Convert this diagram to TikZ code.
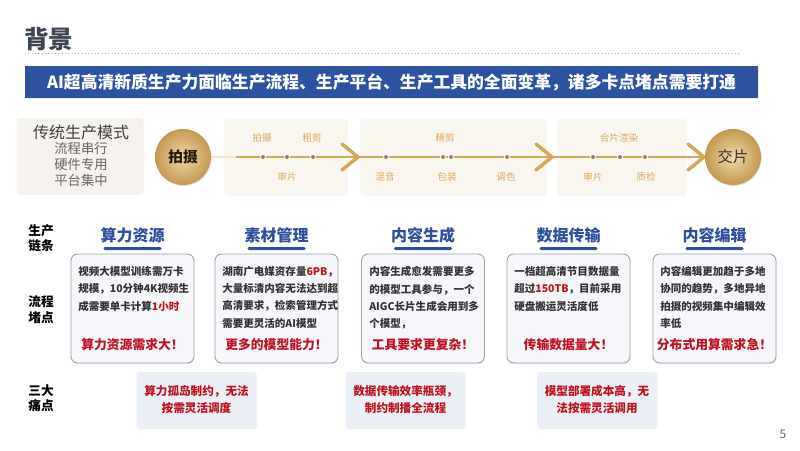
\documentclass[tikz,border=0pt]{standalone}
\usepackage{fontspec}
\setmainfont{Noto Sans CJK SC}
\usetikzlibrary{shadows,calc}
\newdimen\pxu \pxu=0.75pt
\definecolor{titlegray}{HTML}{3D4554}
\definecolor{bannerblue}{HTML}{2D52A2}
\definecolor{beige}{HTML}{F6F3EE}
\definecolor{procbg}{HTML}{F9F6F0}
\definecolor{goldlight}{HTML}{F0D9A6}
\definecolor{golddark}{HTML}{C49853}
\definecolor{goldline}{HTML}{D3A858}
\definecolor{goldtext}{HTML}{DCA95C}
\definecolor{dotgray}{HTML}{8C7C62}
\definecolor{headblue}{HTML}{2D4F9E}
\definecolor{boxfill}{HTML}{F5F7FA}
\definecolor{boxline}{HTML}{9AA3B3}
\definecolor{bodytext}{HTML}{333333}
\definecolor{alertred}{HTML}{C0111F}
\definecolor{painfill}{HTML}{EBEFF6}
\tikzset{
  goldball/.style={circle, minimum size=56\pxu, inner sep=0pt, shading=radial,
    inner color=goldlight, outer color=golddark,
    drop shadow={opacity=0.2, shadow xshift=0.6pt, shadow yshift=-0.8pt}},
  procbox/.style={fill=procbg, rounded corners=3pt, minimum height=77\pxu, inner sep=0pt},
  glabel/.style={text=goldtext, font=\fontsize{7.2}{8}\selectfont},
  flowdot/.style={circle, fill=dotgray, draw=white, line width=0.6pt, minimum size=5\pxu, inner sep=0pt},
  chev/.style={draw=goldline, line width=2.6pt, line cap=round, line join=round},
  rowlabel/.style={align=center, font=\fontsize{9.5}{11.5}\selectfont\bfseries, text=black},
  colhead/.style={text=headblue, font=\fontsize{12}{14}\selectfont\bfseries},
  hbar/.style={fill=headblue, minimum width=58\pxu, minimum height=3\pxu, inner sep=0pt, rounded corners=1pt},
  colbox/.style={fill=boxfill, draw=boxline, line width=0.7pt, rounded corners=5pt,
    minimum width=123\pxu, minimum height=109\pxu, inner sep=0pt,
    drop shadow={opacity=0.12, shadow xshift=0.5pt, shadow yshift=-0.8pt}},
  bodytxt/.style={anchor=north west, align=left, inner sep=0pt, text=bodytext,
    font=\fontsize{7.9}{12.8}\selectfont\bfseries},
  concl/.style={text=alertred, font=\fontsize{9.6}{11}\selectfont\bfseries},
  painbox/.style={fill=painfill, minimum width=120\pxu, minimum height=56\pxu, inner sep=0pt,
    rounded corners=2pt, align=center, text=alertred, font=\fontsize{8.7}{12.8}\selectfont\bfseries,
    drop shadow={opacity=0.1, shadow xshift=0.5pt, shadow yshift=-0.8pt}}
}
\newcommand{\hl}[1]{\textcolor{alertred}{#1}}
\begin{document}
\begin{tikzpicture}[x=0.75pt,y=-0.75pt]
\useasboundingbox (0,0) rectangle (800,450);
\fill[white] (0,0) rectangle (800,450);

% title
\node[anchor=west, inner sep=0pt, text=titlegray, font=\fontsize{18.5}{20}\selectfont\bfseries] (title) at (24,39) {背景};
\coordinate (dl) at (25,53);
\coordinate (dr) at (740,53);
\draw[dotted, gray!70, line width=0.5pt] (dl) -- (dr);

% banner
\node[fill=bannerblue, minimum width=733\pxu, minimum height=32\pxu, inner sep=0pt, text=white,
  font=\fontsize{12.6}{14}\selectfont\bfseries,
  drop shadow={opacity=0.15, shadow xshift=0.5pt, shadow yshift=-0.8pt}] (banner) at (391.5,82)
  {AI超高清新质生产力面临生产流程、生产平台、生产工具的全面变革，诸多卡点堵点需要打通};

% traditional mode
\node[fill=beige, minimum width=127\pxu, minimum height=77\pxu, inner sep=0pt, rounded corners=2pt] (trad) at (80,156.5) {};
\node[text=black!75, font=\fontsize{12}{14}\selectfont] (tradt) at (81,132) {传统生产模式};
\node[text=black!60, align=center, font=\fontsize{10}{12}\selectfont] (tradl) at (81,164.5) {流程串行\\硬件专用\\平台集中};

% process boxes
\node[procbox, minimum width=124\pxu] (p1) at (286,157.5) {};
\node[procbox, minimum width=187\pxu] (p2) at (453.5,157.5) {};
\node[procbox, minimum width=130\pxu] (p3) at (622,157.5) {};

% circles
\node[goldball, text=black!80!brown, font=\fontsize{11}{12}\selectfont\bfseries] (shoot) at (183,157) {拍摄};
\node[goldball, text=black!80, font=\fontsize{11.5}{12}\selectfont] (deliver) at (733,157) {交片};

% flow line
\draw[goldline, line width=2pt] (shoot.east) -- (deliver.west);
\draw[goldlight!60!white, line width=2pt] (shoot.east) -- ++(25,0);

% chevrons
\coordinate (c1) at (358,157);
\coordinate (c2) at (552,157);
\coordinate (c3) at (704,157);
\draw[chev] ($(c1)+(-16,-13)$) -- (c1) -- ($(c1)+(-16,13)$);
\draw[chev] ($(c2)+(-16,-13)$) -- (c2) -- ($(c2)+(-16,13)$);
\draw[chev] ($(c3)+(-16,-13)$) -- (c3) -- ($(c3)+(-16,13)$);

% dots
\foreach \x [count=\i] in {263,287,313,386,443,451,507,593,620,645}
  \node[flowdot] (d\i) at (\x,157) {};

% gold labels
\node[glabel] (l1) at (262,138) {拍摄};
\node[glabel] (l2) at (312,138) {粗剪};
\node[glabel] (l3) at (287,177) {审片};
\node[glabel] (l4) at (445,138) {精剪};
\node[glabel] (l5) at (385,177) {混音};
\node[glabel] (l6) at (447,177) {包装};
\node[glabel] (l7) at (506,177) {调色};
\node[glabel] (l8) at (619,138) {合片渲染};
\node[glabel] (l9) at (593,177) {审片};
\node[glabel] (l10) at (646,177) {质检};

% row labels
\node[rowlabel] (r1) at (41,238) {生产\\链条};
\node[rowlabel] (r2) at (41,309.5) {流程\\堵点};
\node[rowlabel] (r3) at (41,398.5) {三大\\痛点};

% column headings
\node[colhead] (h1) at (132.5,235) {算力资源};
\node[colhead] (h2) at (276.5,235) {素材管理};
\node[colhead] (h3) at (423,235) {内容生成};
\node[colhead] (h4) at (568.5,235) {数据传输};
\node[colhead] (h5) at (714.5,235) {内容编辑};
\node[hbar] (u1) at (132.5,248.5) {};
\node[hbar] (u2) at (276.5,248.5) {};
\node[hbar] (u3) at (423,248.5) {};
\node[hbar] (u4) at (568.5,248.5) {};
\node[hbar] (u5) at (714.5,248.5) {};

% column boxes
\node[colbox] (b1) at (132.5,308.5) {};
\node[colbox] (b2) at (276.5,308.5) {};
\node[colbox] (b3) at (423,308.5) {};
\node[colbox] (b4) at (568.5,308.5) {};
\node[colbox] (b5) at (714.5,308.5) {};

\node[bodytxt] (t1) at (78,266.5) {视频大模型训练需万卡\\规模，10分钟4K视频生\\成需要单卡计算\hl{1小时}};
\node[bodytxt] (t2) at (222,266.5) {湖南广电媒资存量\hl{6PB}，\\大量标清内容无法达到超\\高清要求，检索管理方式\\需要更灵活的AI模型};
\node[bodytxt] (t3) at (369,266.5) {内容生成愈发需要更多\\的模型工具参与，一个\\AIGC长片生成会用到多\\个模型，};
\node[bodytxt] (t4) at (514,266.5) {一档超高清节目数据量\\超过\hl{150TB}，目前采用\\硬盘搬运灵活度低};
\node[bodytxt] (t5) at (660,266.5) {内容编辑更加趋于多地\\协同的趋势，多地异地\\拍摄的视频集中编辑效\\率低};

\node[concl] (k1) at (132.5,345) {算力资源需求大！};
\node[concl] (k2) at (276.5,345) {更多的模型能力！};
\node[concl] (k3) at (423,345) {工具要求更复杂！};
\node[concl] (k4) at (568.5,345) {传输数据量大！};
\node[concl] (k5) at (714.5,345) {分布式用算需求急！};

% pain points
\node[painbox] (q1) at (196.5,400) {算力孤岛制约，无法\\按需灵活调度};
\node[painbox] (q2) at (405.5,400) {数据传输效率瓶颈，\\制约制播全流程};
\node[painbox] (q3) at (597,400) {模型部署成本高，无\\法按需灵活调用};

% page number
\node[text=black!60, font=\fontsize{9}{10}\selectfont] (pg) at (783,434) {5};
\end{tikzpicture}
\end{document}
